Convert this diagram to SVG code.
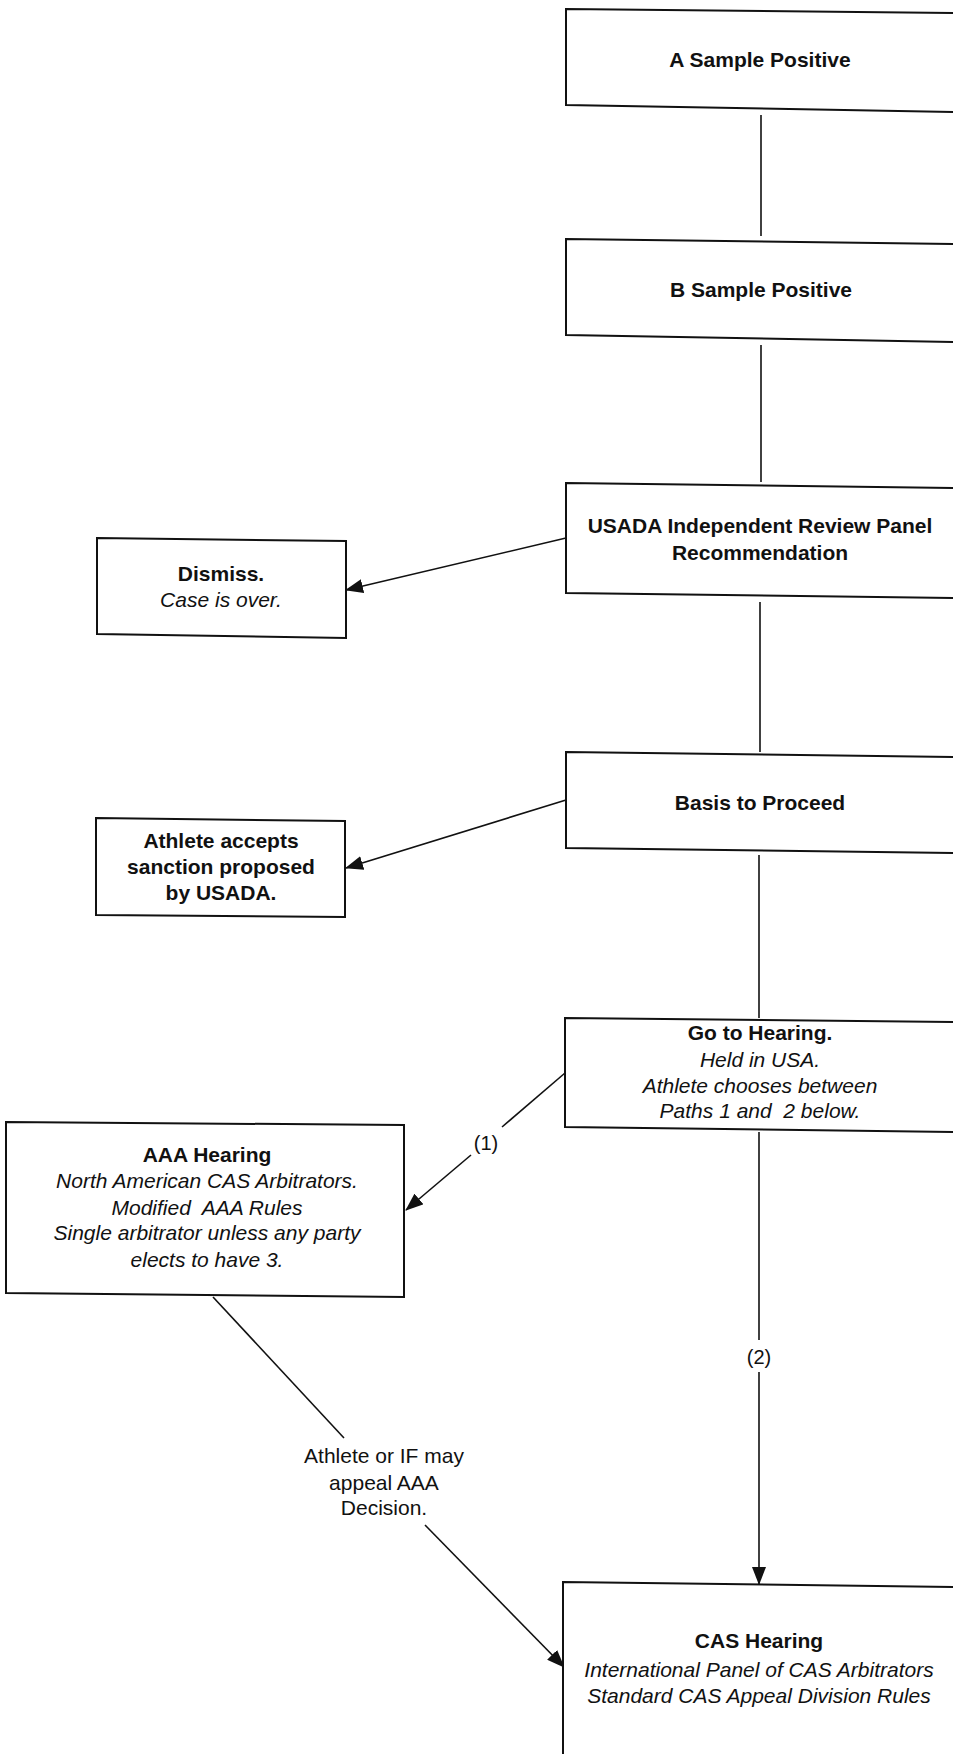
<svg xmlns="http://www.w3.org/2000/svg" width="953" height="1754" viewBox="0 0 953 1754">
<style>
  .box { fill: #ffffff; stroke: #111; stroke-width: 2; }
  .t { font-family: "Liberation Sans", Arial, sans-serif; font-size: 21px; fill: #111; text-anchor: middle; }
  .b { font-weight: bold; }
  .i { font-style: italic; }
  .lbl { font-family: "Liberation Sans", Arial, sans-serif; font-size: 20px; fill: #111; text-anchor: middle; }
  .edge { stroke: #111; stroke-width: 1.6; fill: none; }
  .arr { marker-end: url(#ah); }
</style>
<defs>
  <marker id="ah" markerUnits="userSpaceOnUse" markerWidth="18" markerHeight="14" refX="17" refY="7" orient="auto">
    <path d="M0,0 L18,7 L0,14 Z" fill="#111"/>
  </marker>
</defs>
<rect width="953" height="1754" fill="#ffffff"/>

<g id="connectors">
  <line class="edge" x1="761" y1="115" x2="761" y2="236"/>
  <line class="edge" x1="761" y1="345" x2="761" y2="482"/>
  <line class="edge arr" x1="566" y1="538" x2="346" y2="590"/>
  <line class="edge" x1="760" y1="602" x2="760" y2="752"/>
  <line class="edge arr" x1="566" y1="800" x2="346" y2="868"/>
  <line class="edge" x1="759" y1="855" x2="759" y2="1018"/>
  <line class="edge" x1="565" y1="1073" x2="502" y2="1127"/>
  <line class="edge arr" x1="471" y1="1155" x2="406" y2="1210"/>
  <text class="lbl" x="486" y="1150">(1)</text>
  <line class="edge" x1="759" y1="1132" x2="759" y2="1340"/>
  <text class="lbl" x="759" y="1364">(2)</text>
  <line class="edge arr" x1="759" y1="1372" x2="759" y2="1584"/>
  <line class="edge" x1="213" y1="1297" x2="344" y2="1438"/>
  <text class="t" x="384" y="1463">Athlete or IF may</text>
  <text class="t" x="384" y="1490">appeal AAA</text>
  <text class="t" x="384" y="1515">Decision.</text>
  <line class="edge arr" x1="425" y1="1525" x2="564" y2="1667"/>
</g>

<g id="node-a">
  <polygon class="box" points="566,9 956,13 956,112 566,105"/>
  <text class="t b" x="760" y="67">A Sample Positive</text>
</g>
<g id="node-b">
  <polygon class="box" points="566,239 956,244 956,342 566,335"/>
  <text class="t b" x="761" y="297">B Sample Positive</text>
</g>
<g id="node-usada">
  <polygon class="box" points="566,483 956,488 956,598 566,593"/>
  <text class="t b" x="760" y="533">USADA Independent Review Panel</text>
  <text class="t b" x="760" y="560">Recommendation</text>
</g>
<g id="node-dismiss">
  <polygon class="box" points="97,538 346,541 346,638 97,634"/>
  <text class="t b" x="221" y="581">Dismiss.</text>
  <text class="t i" x="221" y="607">Case is over.</text>
</g>
<g id="node-basis">
  <polygon class="box" points="566,752 956,757 956,853 566,848"/>
  <text class="t b" x="760" y="810">Basis to Proceed</text>
</g>
<g id="node-accept">
  <polygon class="box" points="96,818 345,821 345,917 96,915"/>
  <text class="t b" x="221" y="848">Athlete accepts</text>
  <text class="t b" x="221" y="874">sanction proposed</text>
  <text class="t b" x="221" y="900">by USADA.</text>
</g>
<g id="node-hearing">
  <polygon class="box" points="565,1018 956,1022 956,1132 565,1127"/>
  <text class="t b" x="760" y="1040">Go to Hearing.</text>
  <text class="t i" x="760" y="1067">Held in USA.</text>
  <text class="t i" x="760" y="1093">Athlete chooses between</text>
  <text class="t i" x="760" y="1118" xml:space="preserve">Paths 1 and  2 below.</text>
</g>
<g id="node-aaa">
  <polygon class="box" points="6,1122 404,1125 404,1297 6,1293"/>
  <text class="t b" x="207" y="1162">AAA Hearing</text>
  <text class="t i" x="207" y="1188">North American CAS Arbitrators.</text>
  <text class="t i" x="207" y="1215" xml:space="preserve">Modified  AAA Rules</text>
  <text class="t i" x="207" y="1240">Single arbitrator unless any party</text>
  <text class="t i" x="207" y="1267">elects to have 3.</text>
</g>
<g id="node-cas">
  <polygon class="box" points="563,1582 956,1587 956,1760 563,1760"/>
  <text class="t b" x="759" y="1648">CAS Hearing</text>
  <text class="t i" x="759" y="1677">International Panel of CAS Arbitrators</text>
  <text class="t i" x="759" y="1703">Standard CAS Appeal Division Rules</text>
</g>
</svg>
